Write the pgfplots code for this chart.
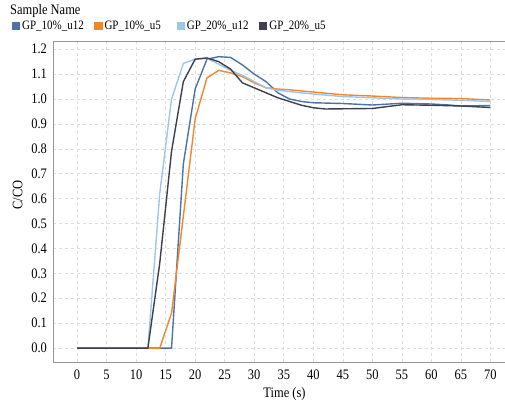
\documentclass[border=0pt]{standalone}
\usepackage{pgfplots}
\pgfplotsset{compat=1.18}
\usepackage{fontspec}
\setmainfont[FakeStretch=0.86]{Liberation Serif}

\definecolor{cA}{RGB}{76,114,168}
\definecolor{cB}{RGB}{240,135,45}
\definecolor{cC}{RGB}{158,198,232}
\definecolor{cD}{RGB}{60,64,80}
\definecolor{gridc}{RGB}{220,220,220}
\definecolor{axc}{RGB}{150,150,150}

\begin{document}
\fontsize{14.5}{17}\selectfont
\begin{tikzpicture}
\begin{axis}[
    scale only axis,
    width=454pt, height=321pt,
    xmin=-4.07, xmax=72.8,
    ymin=-0.056, ymax=1.233,
    xtick={0,5,...,70},
    ytick={0,0.1,...,1.2},
    yticklabel style={/pgf/number format/fixed, /pgf/number format/fixed zerofill, /pgf/number format/precision=1, xshift=-1pt},
    /pgf/number format/assume math mode=true,
    tick style={draw=none},
    major tick length=0pt,
    xmajorgrids, ymajorgrids,
    grid style={gridc, dashed, line width=0.6pt},
    axis line style={axc, line width=0.9pt},
    xticklabel style={yshift=-3pt},
    xlabel={Time (s)},
    ylabel={C/CO},
    xlabel style={at={(axis description cs:0.51,-0.1)}, anchor=center},
    ylabel style={at={(axis description cs:-0.078,0.52)}, anchor=center},
    legend columns=4,
    legend style={draw=none, fill=none, at={(axis description cs:-0.098,1.047)}, anchor=west,
                  font=\fontsize{12.8}{15}\selectfont,
                  /tikz/every even column/.append style={column sep=0pt}},
    legend image code/.code={\fill[#1] (0pt,-3.5pt) rectangle (7pt,3.5pt);},
    every axis plot/.append style={line width=1.4pt},
]
\addplot[cA] coordinates {(0,0) (16,0) (18,0.74) (20,1.04) (22,1.16) (24,1.17) (26,1.167) (28,1.137) (30,1.10) (32,1.07) (34,1.025) (36,1.00) (38,0.99) (40,0.985) (45,0.982) (50,0.976) (55,0.983) (60,0.98) (63,0.976) (65,0.972) (70,0.974)};
\addlegendentry{\makebox[70pt][l]{GP\_10\%\_u12}}
\addplot[cB] coordinates {(0,0) (14,0) (16,0.14) (18,0.53) (20,0.92) (22,1.085) (24,1.115) (26,1.105) (28,1.09) (30,1.065) (32,1.045) (34,1.04) (36,1.037) (40,1.028) (45,1.017) (50,1.012) (55,1.006) (60,1.003) (65,1.002) (70,0.996)};
\addlegendentry{\makebox[70pt][l]{GP\_10\%\_u5}}
\addplot[cC] coordinates {(0,0) (12,0) (14,0.62) (16,1.0) (18,1.143) (20,1.16) (22,1.163) (24,1.14) (26,1.115) (28,1.095) (30,1.07) (32,1.045) (34,1.035) (36,1.03) (40,1.02) (45,1.01) (50,1.005) (55,1.0) (60,0.998) (65,0.995) (70,0.99)};
\addlegendentry{\makebox[70pt][l]{GP\_20\%\_u12}}
\addplot[cD] coordinates {(0,0) (12,0) (14,0.34) (16,0.79) (18,1.07) (20,1.16) (22,1.165) (24,1.15) (26,1.12) (28,1.065) (30,1.045) (32,1.025) (34,1.005) (36,0.99) (38,0.975) (40,0.965) (42,0.96) (50,0.962) (55,0.977) (60,0.975) (65,0.972) (70,0.966)};
\addlegendentry{GP\_20\%\_u5}
\end{axis}
\node[anchor=west, inner sep=0pt] at ([xshift=-43pt, yshift=30pt]current axis.north west) {Sample Name};
\pgfresetboundingbox
\path ([xshift=-53pt, yshift=-45pt]current axis.south west) rectangle ([xshift=-2pt, yshift=41pt]current axis.north east);
\end{tikzpicture}
\end{document}
